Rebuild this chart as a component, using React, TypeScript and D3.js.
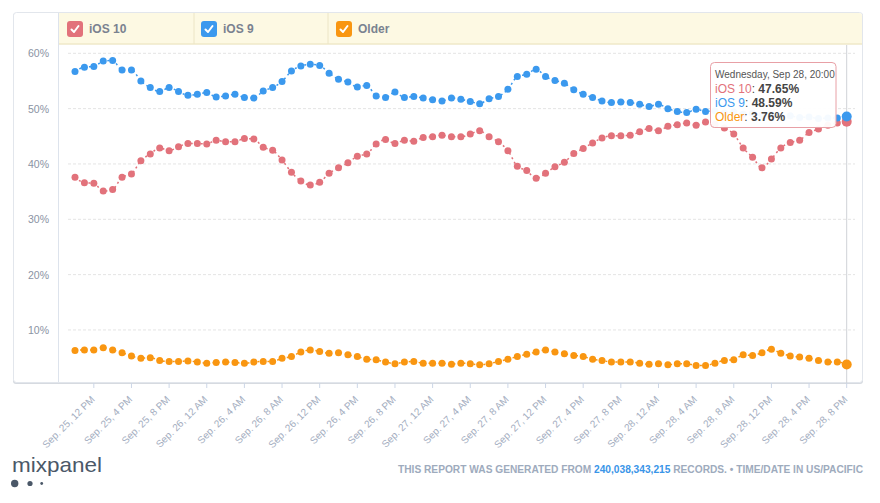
import React from "react";
import * as d3 from "d3";

const START = new Date(2016, 8, 25, 10, 0);
const END_TICK = new Date(2016, 8, 28, 20, 0);

const seriesNames = ["iOS 10", "iOS 9", "Older"];
const seriesColors = ["#e2727b", "#3b99ee", "#f99611"];

const ios10 = [
  37.6, 36.6, 36.5, 35.1, 35.4, 37.6, 38.2, 40.6, 41.8, 42.9,
  42.4, 43.1, 43.7, 43.7, 43.6, 44.3, 44.0, 44.0, 44.6, 44.5,
  43.0, 42.5, 40.7, 38.5, 36.9, 36.2, 36.7, 38.3, 39.3, 40.2,
  41.4, 41.8, 43.6, 44.4, 43.7, 44.3, 44.1, 44.8, 44.9, 45.2,
  44.9, 44.9, 45.4, 46.0, 44.9, 44.0, 42.4, 39.6, 38.8, 37.4,
  38.3, 39.5, 40.3, 41.9, 42.8, 43.8, 44.7, 45.1, 45.1, 45.2,
  45.8, 46.4, 46.0, 46.8, 47.1, 47.4, 47.0, 47.6, 47.2, 46.5,
  45.4, 42.9, 41.2, 39.3, 40.9, 42.9, 43.9, 44.3, 45.7, 46.3,
  47.0, 47.4, 47.65,
];

const ios9 = [
  56.7, 57.5, 57.6, 58.6, 58.7, 57.0, 57.0, 55.0, 53.8, 53.1,
  53.8, 53.1, 52.4, 52.6, 52.9, 52.1, 52.3, 52.6, 52.0, 51.9,
  53.2, 53.8, 54.9, 56.8, 57.7, 58.0, 57.8, 56.4, 55.3, 54.8,
  53.9, 54.2, 52.3, 52.0, 53.0, 52.0, 52.2, 51.9, 51.6, 51.4,
  51.9, 51.7, 51.3, 50.9, 51.8, 52.2, 53.5, 55.8, 56.2, 57.1,
  55.8, 55.1, 54.6, 53.4, 52.6, 52.0, 51.4, 51.1, 51.2, 51.1,
  50.8, 50.4, 50.8, 50.0, 49.5, 49.3, 49.9, 49.5, 49.6, 49.2,
  49.4, 49.0, 49.1, 48.8, 48.9, 48.6, 48.7, 48.4, 48.5, 48.2,
  48.3, 48.3, 48.59,
];

const older = [
  6.3, 6.4, 6.4, 6.8, 6.4, 5.9, 5.3, 4.9, 5.0, 4.5,
  4.3, 4.3, 4.4, 4.2, 4.0, 4.1, 4.2, 4.1, 4.0, 4.2,
  4.3, 4.3, 4.9, 5.2, 6.0, 6.4, 6.1, 5.8, 5.9, 5.5,
  5.2, 4.7, 4.6, 4.2, 3.9, 4.2, 4.3, 4.0, 4.0, 4.0,
  3.8, 4.0, 3.9, 3.7, 3.9, 4.3, 4.7, 5.2, 5.6, 6.0,
  6.4, 6.0, 5.7, 5.4, 5.2, 4.7, 4.5, 4.2, 4.2, 4.2,
  4.0, 3.8, 3.9, 3.7, 3.9, 3.9, 3.6, 3.6, 4.0, 4.5,
  4.6, 5.5, 5.4, 5.9, 6.5, 5.8, 5.3, 5.1, 4.9, 4.5,
  4.2, 4.2, 3.76,
];

const yTicks = [10, 20, 30, 40, 50, 60];
const tooltipTitle = "Wednesday, Sep 28, 20:00";
const footerPrefix = "THIS REPORT WAS GENERATED FROM ";
const footerCount = "240,038,343,215";
const footerSuffix = " RECORDS. \u2022 TIME/DATE IN US/PACIFIC";

const FONT = '"Helvetica Neue", Helvetica, Arial, "Liberation Sans", sans-serif';

function fmtTick(d: Date) {
  const h = d.getHours();
  const h12 = h % 12 === 0 ? 12 : h % 12;
  const ap = h < 12 ? "AM" : "PM";
  return `Sep. ${d.getDate()}, ${h12} ${ap}`;
}

export default function App() {
  const W = 880;
  const H = 503;
  const data = [ios10, ios9, older];
  const times = ios10.map((_, i) => d3.timeHour.offset(START, i));
  const x = d3
    .scaleTime()
    .domain([times[0], times[times.length - 1]])
    .range([75, 846.7]);
  const y = d3.scaleLinear().domain([0, 60]).range([385.3, 53.3]);
  const ticks = d3.timeHour
    .every(4)!
    .range(new Date(2016, 8, 25, 12), d3.timeMinute.offset(END_TICK, 1));

  const line = d3
    .line<number>()
    .x((_, i) => x(times[i]))
    .y((v) => y(v))
    .curve(d3.curveMonotoneX);

  const cardL = 13, cardT = 12, cardR = 863, cardB = 383;
  const axisR = 58, legendB = 44;
  const last = times.length - 1;
  const lastX = x(times[last]);

  const legendItems = [
    { x: 67, tx: 89 },
    { x: 201, tx: 223 },
    { x: 336, tx: 358 },
  ];
  const legendSeps = [194, 328];

  const drawOrder = [2, 0, 1];

  return (
    <svg
      width={W}
      height={H}
      style={{ position: "absolute", left: 0, top: 0, background: "#fff" }}
      fontFamily={FONT}
    >
      {/* card */}
      <rect x={cardL} y={cardT + 1} width={cardR - cardL} height={cardB - cardT} rx={3} fill="#d6dae0" />
      <rect x={cardL + 0.5} y={cardT + 0.5} width={cardR - cardL - 1} height={cardB - cardT - 1} rx={3} fill="#fff" stroke="#e2e6ec" />
      {/* legend band */}
      <path
        d={`M${axisR},${cardT + 1} H${cardR - 4} Q${cardR - 1},${cardT + 1} ${cardR - 1},${cardT + 4} V${legendB} H${axisR} Z`}
        fill="#fdf9e3"
      />
      <line x1={axisR} x2={cardR - 1} y1={legendB} y2={legendB} stroke="#efe8c9" strokeWidth={1.5} />
      {legendSeps.map((sx) => (
        <line key={sx} x1={sx} x2={sx} y1={cardT + 1} y2={legendB} stroke="#ece5c6" />
      ))}
      <line x1={axisR + 0.5} x2={axisR + 0.5} y1={cardT + 1} y2={cardB - 1} stroke="#dde3ec" />
      {legendItems.map((li, i) => (
        <g key={i}>
          <rect x={li.x} y={21} width={16} height={16} rx={3} fill={seriesColors[i]} />
          <path
            d={`M${li.x + 4.5},${29.5} L${li.x + 7},${32} L${li.x + 11.5},${26}`}
            fill="none"
            stroke="#fff"
            strokeWidth={2}
            strokeLinecap="round"
            strokeLinejoin="round"
          />
          <text x={li.tx} y={33} fontSize={12} fontWeight={600} fill="#7a8290">
            {seriesNames[i]}
          </text>
        </g>
      ))}

      {/* grid + y labels */}
      {yTicks.map((t) => (
        <g key={t}>
          <line x1={68} x2={855} y1={y(t)} y2={y(t)} stroke="#e4e4e4" strokeDasharray="3,2" />
          <text x={49} y={y(t) + 4} textAnchor="end" fontSize={10.5} fontWeight={500} fill="#8a93a3">
            {t}%
          </text>
        </g>
      ))}

      {/* crosshair */}
      <line x1={lastX} x2={lastX} y1={legendB + 1} y2={cardB} stroke="#cfd2d7" />

      {/* series */}
      {drawOrder.map((si) => (
        <g key={si}>
          <path
            d={line(data[si]) || ""}
            fill="none"
            stroke={seriesColors[si]}
            strokeWidth={1.5}
            strokeDasharray="2,3"
          />
          {data[si].map((v, i) =>
            i === last ? null : (
              <circle key={i} cx={x(times[i])} cy={y(v)} r={3.5} fill={seriesColors[si]} />
            )
          )}
        </g>
      ))}
      {drawOrder.map((si) => (
        <circle key={"h" + si} cx={lastX} cy={y(data[si][last])} r={5} fill={seriesColors[si]} />
      ))}

      {/* x axis ticks */}
      {ticks.map((t, i) => {
        const tx = x(t);
        return (
          <g key={i}>
            <line x1={tx} x2={tx} y1={cardB} y2={cardB + 5} stroke="#ccd6e6" />
            <text
              transform={`translate(${tx + 1.5},${cardB + 17}) rotate(-45)`}
              textAnchor="end"
              fontSize={10}
              fill="#a3adc0"
            >
              {fmtTick(t)}
            </text>
          </g>
        );
      })}

      {/* tooltip */}
      <g>
        <rect x={710.5} y={62.5} width={125.5} height={65} rx={4} fill="#fff" fillOpacity={0.95} stroke="#e8a0a6" />
        <text x={715} y={78} fontSize={10} fill="#555">
          {tooltipTitle}
        </text>
        {data.map((s, i) => (
          <text key={i} x={715} y={93 + i * 14} fontSize={12}>
            <tspan fill={seriesColors[i]}>{seriesNames[i]}</tspan>
            <tspan fill="#444">: </tspan>
            <tspan fill="#444" fontWeight="bold">
              {s[last].toFixed(2)}%
            </tspan>
          </text>
        ))}
      </g>

      {/* footer */}
      <text x={12} y={472} fontSize={21} fontWeight={300} fill="#4b5868" textLength={90} lengthAdjust="spacingAndGlyphs">
        mixpanel
      </text>
      <circle cx={14.7} cy={483.5} r={3.7} fill="#4b5868" />
      <circle cx={30} cy={483.5} r={2.6} fill="#4b5868" />
      <circle cx={41.7} cy={483.5} r={1.4} fill="#4b5868" />
      <text x={398} y={473} fontSize={10} fontWeight={600} fill="#9eabbd" textLength={465} lengthAdjust="spacingAndGlyphs">
        <tspan>{footerPrefix}</tspan>
        <tspan fill="#3a95e8" fontWeight="bold">{footerCount}</tspan>
        <tspan>{footerSuffix}</tspan>
      </text>
    </svg>
  );
}
